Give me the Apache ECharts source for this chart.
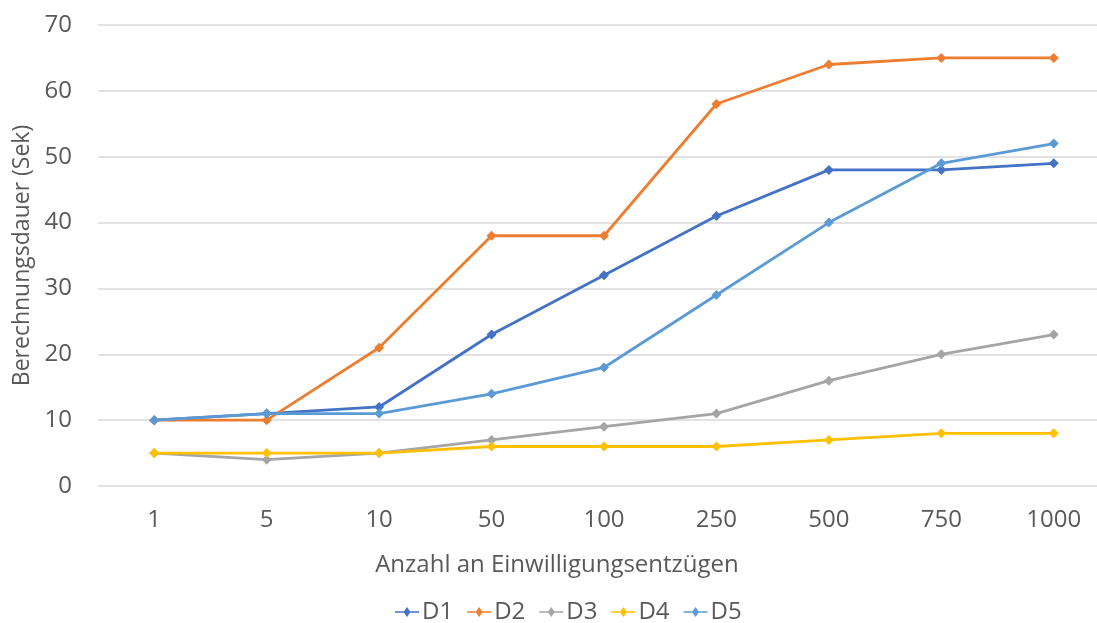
<!DOCTYPE html>
<html>
<head>
<meta charset="utf-8">
<script src="https://cdn.jsdelivr.net/npm/echarts@6/dist/echarts.min.js"></script>
<style>
  html, body { margin: 0; padding: 0; background: #fff; overflow: hidden; }
  #chart { width: 1097px; height: 623px; }
</style>
</head>
<body>
<div id="chart"></div>
<script>
// Anzahl an Einwilligungsentzügen (categories)
const categories = ['1', '5', '10', '50', '100', '250', '500', '750', '1000'];

// Berechnungsdauer in Sekunden je Datensatz
const d1 = [10, 11, 12, 23, 32, 41, 48, 48, 49];
const d2 = [10, 10, 21, 38, 38, 58, 64, 65, 65];
const d3 = [5, 4, 5, 7, 9, 11, 16, 20, 23];
const d4 = [5, 5, 5, 6, 6, 6, 7, 8, 8];
const d5 = [10, 11, 11, 14, 18, 29, 40, 49, 52];

const seriesNames = ['D1', 'D2', 'D3', 'D4', 'D5'];
const seriesData = [d1, d2, d3, d4, d5];
const colors = ['#4472C4', '#ED7D31', '#A5A5A5', '#FFC000', '#5B9BD5'];

const textColor = '#595959';
const fontFamily = 'Open Sans, Noto Sans, sans-serif';

// legend icon: short line with a diamond in the middle
const legendIcon = 'path://M0,4.2 L9,4.2 L12,0 L15,4.2 L24,4.2 L24,5.8 L15,5.8 L12,10 L9,5.8 L0,5.8 Z';

const chart = echarts.init(document.getElementById('chart'));
chart.setOption({
  animation: false,
  color: colors,
  textStyle: { fontFamily: fontFamily, color: textColor },
  // plot area runs slightly past the right border, the last band is cut off
  grid: { left: 98, width: 1012, top: 25, bottom: 137, containLabel: false, outerBoundsMode: 'none' },
  legend: {
    top: 595,
    left: 390,
    itemWidth: 24,
    itemHeight: 10,
    itemGap: 14,
    textStyle: { fontSize: 24, color: textColor, fontFamily: fontFamily, padding: [0, 0, 0, -2] },
    data: seriesNames.map(n => ({ name: n, icon: legendIcon }))
  },
  xAxis: {
    type: 'category',
    data: categories,
    boundaryGap: true,
    axisLine: { show: false },
    axisTick: { show: false },
    axisLabel: { fontSize: 24, color: textColor, margin: 22 },
    name: 'Anzahl an Einwilligungsentzügen',
    nameLocation: 'middle',
    nameGap: 67,
    nameTextStyle: { fontSize: 24, color: textColor, padding: [0, 94, 0, 0] }
  },
  yAxis: {
    type: 'value',
    min: 0,
    max: 70,
    interval: 10,
    axisLine: { show: false },
    axisTick: { show: false },
    axisLabel: { fontSize: 24, color: textColor, margin: 26 },
    splitLine: { lineStyle: { color: '#D9D9D9', width: 1.5 } },
    name: 'Berechnungsdauer (Sek)',
    nameLocation: 'middle',
    nameGap: 64,
    nameTextStyle: { fontSize: 23, color: textColor }
  },
  series: seriesNames.map((name, i) => ({
    name: name,
    type: 'line',
    data: seriesData[i],
    smooth: false,
    symbol: 'diamond',
    symbolSize: 10,
    lineStyle: { width: 2.8, color: colors[i] },
    itemStyle: { color: colors[i] }
  }))
});
</script>
</body>
</html>
